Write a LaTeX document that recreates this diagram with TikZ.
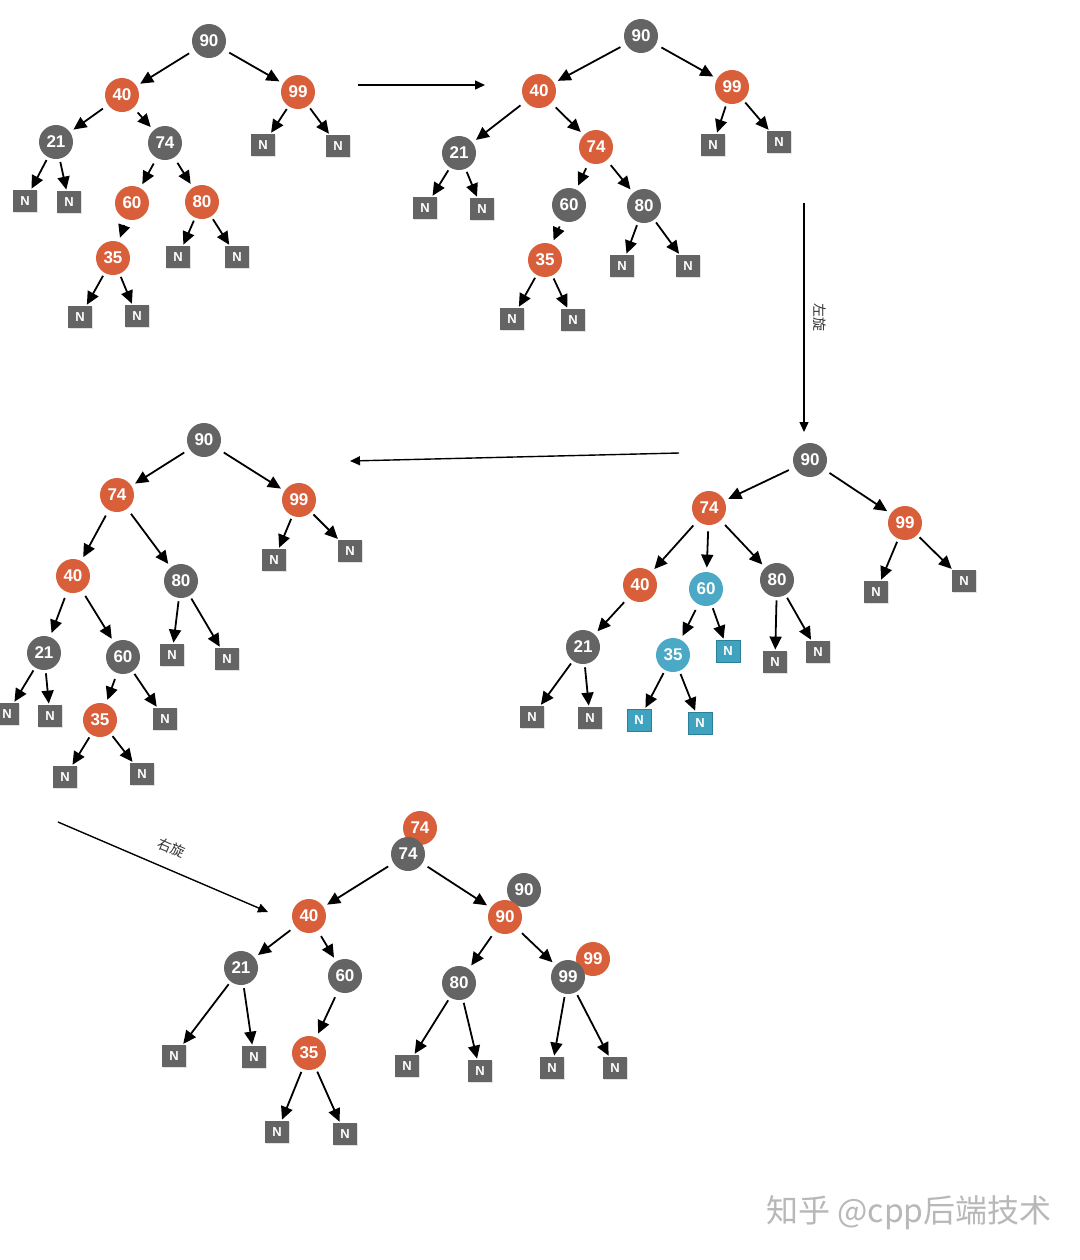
\documentclass[tikz,border=0pt]{standalone}
\usepackage{fontspec}
\setmainfont{Liberation Sans}
\newfontfamily\cjk{Noto Sans CJK SC}
\usepackage{tikz}
\usetikzlibrary{arrows.meta,shadows}
\definecolor{nodeGray}{HTML}{646464}
\definecolor{nodeRed}{HTML}{D95F3B}
\definecolor{nodeBlue}{HTML}{4BA9C6}
\definecolor{boxBlue}{HTML}{3FA3C0}
\definecolor{boxEdge}{HTML}{2B7F99}

\tikzset{
  rbnode/.style={circle, minimum size=17pt, inner sep=0pt, text=white,
    font=\fontsize{8.5}{10}\selectfont\bfseries},
  gnode/.style={rbnode, fill=nodeGray},
  rnode/.style={rbnode, fill=nodeRed},
  bnode/.style={rbnode, fill=nodeBlue},
  nil/.style={rectangle, minimum width=12pt, minimum height=11pt, inner sep=0pt,
    fill=nodeGray, text=white, font=\fontsize{6.5}{8}\selectfont\bfseries,
    drop shadow={shadow xshift=0.7pt, shadow yshift=-0.7pt, fill=black!22}},
  bnil/.style={nil, fill=boxBlue, draw=boxEdge, line width=0.4pt},
  link/.style={-{Triangle[length=6.5pt,width=6pt]}, line width=0.9pt,
    shorten <=3pt, shorten >=2pt},
  leaf/.style={link, shorten <=1.5pt, shorten >=0.5pt},
  step arrow/.style={-{Triangle[length=5pt,width=4.5pt]}, line width=0.7pt},
  steplabel/.style={font=\cjk\fontsize{7}{8}\selectfont, text=black!80}
}

\begin{document}
\begin{tikzpicture}[x=0.5pt, y=-0.5pt]
  \useasboundingbox[fill=white] (0,0) rectangle (1080,1260);

  % Tree 1: after inserting 35
  \node[gnode] (a90) at (209,41) {90};
  \node[rnode] (a40) at (122,95) {40};
  \node[rnode] (a99) at (298,92) {99};
  \node[gnode] (a21) at (56,142) {21};
  \node[gnode] (a74) at (165,143) {74};
  \node[rnode] (a60) at (132,203) {60};
  \node[rnode] (a80) at (202,202) {80};
  \node[rnode] (a35) at (113,258) {35};
  \node[nil] (a21l) at (25,201) {N};
  \node[nil] (a21r) at (69,202) {N};
  \node[nil] (a80l) at (178,257) {N};
  \node[nil] (a80r) at (237,257) {N};
  \node[nil] (a35l) at (80,317) {N};
  \node[nil] (a35r) at (137,316) {N};
  \node[nil] (a99l) at (263,145) {N};
  \node[nil] (a99r) at (338,146) {N};
  \foreach \p/\c in {a90/a40, a90/a99, a40/a21, a40/a74, a74/a60, a74/a80, a60/a35}
    \draw[link] (\p) -- (\c);
  \foreach \p/\c in {a21/a21l, a21/a21r, a35/a35l, a35/a35r, a80/a80l, a80/a80r,
      a99/a99l, a99/a99r}
    \draw[leaf] (\p) -- (\c);

  % Tree 2: recolour
  \node[gnode] (b90) at (641,36) {90};
  \node[rnode] (b40) at (539,91) {40};
  \node[rnode] (b99) at (732,87) {99};
  \node[gnode] (b21) at (459,153) {21};
  \node[rnode] (b74) at (596,147) {74};
  \node[gnode] (b60) at (569,205) {60};
  \node[gnode] (b80) at (644,206) {80};
  \node[rnode] (b35) at (545,260) {35};
  \node[nil] (b99l) at (713,145) {N};
  \node[nil] (b99r) at (779,142) {N};
  \node[nil] (b21l) at (425,208) {N};
  \node[nil] (b21r) at (482,209) {N};
  \node[nil] (b80l) at (622,266) {N};
  \node[nil] (b80r) at (688,266) {N};
  \node[nil] (b35l) at (512,319) {N};
  \node[nil] (b35r) at (573,320) {N};
  \foreach \p/\c in {b90/b40, b90/b99, b40/b21, b40/b74, b74/b60, b74/b80, b60/b35}
    \draw[link] (\p) -- (\c);
  \foreach \p/\c in {b21/b21l, b21/b21r, b35/b35l, b35/b35r, b80/b80l, b80/b80r,
      b99/b99l, b99/b99r}
    \draw[leaf] (\p) -- (\c);

  % Tree 3: after left rotation
  \node[gnode] (c90) at (810,460) {90};
  \node[rnode] (c74) at (709,508) {74};
  \node[rnode] (c99) at (905,523) {99};
  \node[rnode] (c40) at (640,585) {40};
  \node[bnode] (c60) at (706,589) {60};
  \node[gnode] (c80) at (777,580) {80};
  \node[gnode] (c21) at (583,647) {21};
  \node[bnode] (c35) at (673,655) {35};
  \node[bnil] (c60r) at (728,651) {N};
  \node[nil] (c99l) at (876,592) {N};
  \node[nil] (c99r) at (964,581) {N};
  \node[nil] (c80l) at (775,662) {N};
  \node[nil] (c80r) at (818,652) {N};
  \node[nil] (c21l) at (532,717) {N};
  \node[nil] (c21r) at (590,718) {N};
  \node[bnil] (c35l) at (639,720) {N};
  \node[bnil] (c35r) at (700,723) {N};
  \foreach \p/\c in {c90/c74, c90/c99, c74/c40, c74/c60, c74/c80, c40/c21, c60/c35}
    \draw[link] (\p) -- (\c);
  \foreach \p/\c in {c21/c21l, c21/c21r, c60/c60r, c35/c35l, c35/c35r,
      c80/c80l, c80/c80r, c99/c99l, c99/c99r}
    \draw[leaf] (\p) -- (\c);

  % Tree 4: subtree moved
  \node[gnode] (d90) at (204,440) {90};
  \node[rnode] (d74) at (117,495) {74};
  \node[rnode] (d99) at (299,500) {99};
  \node[rnode] (d40) at (73,576) {40};
  \node[gnode] (d80) at (181,581) {80};
  \node[gnode] (d21) at (44,653) {21};
  \node[gnode] (d60) at (123,657) {60};
  \node[rnode] (d35) at (100,720) {35};
  \node[nil] (d99l) at (274,560) {N};
  \node[nil] (d99r) at (350,551) {N};
  \node[nil] (d80l) at (172,655) {N};
  \node[nil] (d80r) at (227,659) {N};
  \node[nil] (d21l) at (7,714) {N};
  \node[nil] (d21r) at (50,716) {N};
  \node[nil] (d60r) at (165,719) {N};
  \node[nil] (d35l) at (65,777) {N};
  \node[nil] (d35r) at (142,774) {N};
  \foreach \p/\c in {d90/d74, d90/d99, d74/d40, d74/d80, d40/d21, d40/d60, d60/d35}
    \draw[link] (\p) -- (\c);
  \foreach \p/\c in {d21/d21l, d21/d21r, d60/d60r, d35/d35l, d35/d35r,
      d80/d80l, d80/d80r, d99/d99l, d99/d99r}
    \draw[leaf] (\p) -- (\c);

  % Tree 5: after right rotation, old and new colours overlap
  \node[rnode] (e74x) at (420,828) {74};
  \node[gnode] (e74) at (408,854) {74};
  \node[gnode] (e90x) at (524,890) {90};
  \node[rnode] (e90) at (505,917) {90};
  \node[rnode] (e99x) at (593,959) {99};
  \node[gnode] (e99) at (568,977) {99};
  \node[rnode] (e40) at (309,916) {40};
  \node[gnode] (e21) at (241,968) {21};
  \node[gnode] (e60) at (345,976) {60};
  \node[gnode] (e80) at (459,983) {80};
  \node[rnode] (e35) at (309,1053) {35};
  \node[nil] (e21l) at (174,1056) {N};
  \node[nil] (e21r) at (254,1057) {N};
  \node[nil] (e80l) at (407,1066) {N};
  \node[nil] (e80r) at (480,1071) {N};
  \node[nil] (e99l) at (552,1068) {N};
  \node[nil] (e99r) at (615,1068) {N};
  \node[nil] (e35l) at (277,1132) {N};
  \node[nil] (e35r) at (345,1134) {N};
  \foreach \p/\c in {e74/e40, e74/e90, e40/e21, e40/e60, e60/e35, e90/e80, e90/e99}
    \draw[link] (\p) -- (\c);
  \foreach \p/\c in {e21/e21l, e21/e21r, e35/e35l, e35/e35r, e80/e80l, e80/e80r,
      e99/e99l, e99/e99r}
    \draw[leaf] (\p) -- (\c);

  % steps between trees
  \coordinate (s1a) at (358,85);  \coordinate (s1b) at (485,85);
  \coordinate (s2a) at (804,203); \coordinate (s2b) at (804,432);
  \coordinate (s3a) at (679,453); \coordinate (s3b) at (350,461);
  \coordinate (s4a) at (58,822);  \coordinate (s4b) at (268,912);
  \draw[step arrow] (s1a) -- (s1b);
  \draw[step arrow] (s2a) -- node[steplabel, right=1pt, rotate=-90, anchor=south] {左旋} (s2b);
  \draw[step arrow] (s3a) -- (s3b);
  \draw[step arrow] (s4a) -- node[steplabel, sloped, above=3.5pt] {右旋} (s4b);

  % watermark
  \node[font=\cjk\fontsize{16}{17}\selectfont, text=black!28] (mark) at (909,1213) {知乎 @cpp后端技术};
\end{tikzpicture}
\end{document}
